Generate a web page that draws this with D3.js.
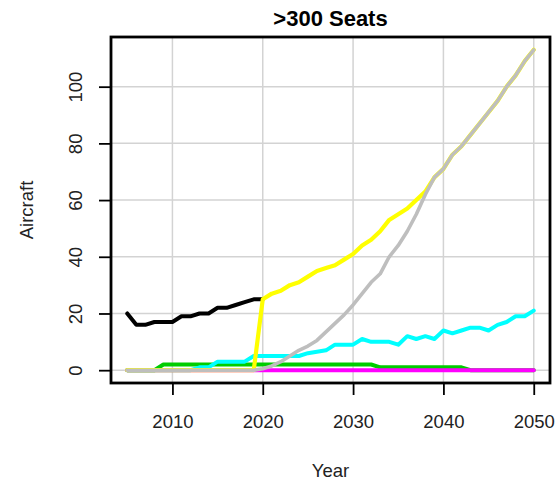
<!DOCTYPE html>
<html>
<head>
<meta charset="utf-8">
<script src="https://cdn.jsdelivr.net/npm/d3@7"></script>
<style>
  html, body { margin: 0; padding: 0; background: #ffffff; }
  svg { display: block; font-family: "Liberation Sans", Arial, Helvetica, sans-serif; }
</style>
</head>
<body>
<svg id="chart" width="557" height="481"></svg>
<script>
// Fleet size of >300-seat aircraft by year, one array per technology group.
const years = d3.range(2005, 2051);

// Existing fleet (ends in 2020)
const blackSeries = [20, 16, 16, 17, 17, 17, 19, 19, 20, 20, 22, 22, 23, 24, 25, 25,
  null, null, null, null, null, null, null, null, null, null, null, null, null, null,
  null, null, null, null, null, null, null, null, null, null, null, null, null, null, null, null];

const greenSeries = [0, 0, 0, 0, 2, 2, 2, 2, 2, 2, 2, 2, 2, 2, 2, 2, 2, 2, 2, 2,
  2, 2, 2, 2, 2, 2, 2, 2, 1, 1, 1, 1, 1, 1, 1, 1, 1, 1, 0, 0, 0, 0, 0, 0, 0, 0];

const cyanSeries = [0, 0, 0, 0, 0, 0, 0, 0, 1, 1, 3, 3, 3, 3, 5, 5, 5, 5, 5, 5,
  6, 6.5, 7, 9, 9, 9, 11, 10, 10, 10, 9, 12, 11, 12, 11, 14, 13, 14, 15, 15,
  14, 16, 17, 19, 19, 21];

const magentaSeries = [0, 0, 0, 0, 0, 0, 0, 0, 0, 0, 0, 0, 0, 0, 0, 0, 0, 0, 0, 0,
  0, 0, 0, 0, 0, 0, 0, 0, 0, 0, 0, 0, 0, 0, 0, 0, 0, 0, 0, 0, 0, 0, 0, 0, 0, 0];

const yellowSeries = [0, 0, 0, 0, 0, 0, 0, 0, 0, 0, 0, 0, 0, 0, 0, 25, 27, 28, 30, 31,
  33, 35, 36, 37, 39, 41, 44, 46, 49, 53, 55, 57, 60, 63, 68,
  71, 76, 79, 83, 87, 91, 95, 100, 104, 109, 113];

const graySeries = [0, 0, 0, 0, 0, 0, 0, 0, 0, 0, 0, 0, 0, 0, 0, 0.5, 1.5, 3, 5, 7,
  8.5, 10.5, 13.5, 16.5, 19.5, 23, 27, 31, 34, 40, 44, 49, 55, 62, 68,
  71, 76, 79, 83, 87, 91, 95, 100, 104, 109, 113];

const xTicks = [2010, 2020, 2030, 2040, 2050];
const yTicks = [0, 20, 40, 60, 80, 100];

const titleText = ">300 Seats";
const xLabel = "Year";
const yLabel = "Aircraft";

// Drawing order: later series sit on top.
const seriesList = [
  { values: blackSeries,   color: "#000000", width: 4 },
  { values: greenSeries,   color: "#00CD00", width: 4 },
  { values: cyanSeries,    color: "#00FFFF", width: 4 },
  { values: magentaSeries, color: "#FF00FF", width: 4 },
  { values: yellowSeries,  color: "#FFFF00", width: 4.2 },
  { values: graySeries,    color: "#BEBEBE", width: 3.6 }
];

const svg = d3.select("#chart");
svg.append("rect").attr("width", 557).attr("height", 481).attr("fill", "#ffffff");

// Plot region with 4% padding around the data range on each axis.
const xMin = 2005, xMax = 2050, yMin = 0, yMax = 113;
const xPad = (xMax - xMin) * 0.04, yPad = (yMax - yMin) * 0.04;
const x = d3.scaleLinear().domain([xMin - xPad, xMax + xPad]).range([111, 550]);
const y = d3.scaleLinear().domain([yMin - yPad, yMax + yPad]).range([383, 37]);

const [x0, x1] = x.range();
const [y0, y1] = y.range();

// Grid
const grid = svg.append("g").attr("stroke", "#D3D3D3").attr("stroke-width", 1.5);
grid.selectAll("line.v").data(xTicks).join("line")
  .attr("class", "v")
  .attr("x1", d => x(d)).attr("x2", d => x(d))
  .attr("y1", y1).attr("y2", y0);
grid.selectAll("line.h").data(yTicks).join("line")
  .attr("class", "h")
  .attr("x1", x0).attr("x2", x1)
  .attr("y1", d => y(d)).attr("y2", d => y(d));

// Series
const line = d3.line()
  .defined(d => d.v !== null)
  .x(d => x(d.year))
  .y(d => y(d.v));

const plot = svg.append("g");
seriesList.forEach(s => {
  const pts = years.map((yr, i) => ({ year: yr, v: s.values[i] }));
  plot.append("path")
    .datum(pts)
    .attr("fill", "none")
    .attr("stroke", s.color)
    .attr("stroke-width", s.width)
    .attr("stroke-linejoin", "round")
    .attr("stroke-linecap", "round")
    .attr("d", line);
});

// Frame
svg.append("rect")
  .attr("x", x0).attr("y", y1)
  .attr("width", x1 - x0).attr("height", y0 - y1)
  .attr("fill", "none").attr("stroke", "#000").attr("stroke-width", 2.8);

// Axes
const fontSize = 18.5;
const xAxis = svg.append("g")
  .attr("transform", `translate(0,${y0})`)
  .call(d3.axisBottom(x).tickValues(xTicks).tickSize(12).tickFormat(d3.format("d")));
xAxis.select(".domain").remove();
xAxis.selectAll(".tick line").attr("stroke", "#000").attr("stroke-width", 1.8);
xAxis.selectAll(".tick text")
  .attr("y", 45).attr("dy", 0)
  .attr("fill", "#222")
  .style("font-size", fontSize + "px")
  .style("font-family", "'Liberation Sans', Arial, sans-serif");

const yAxis = svg.append("g")
  .attr("transform", `translate(${x0},0)`)
  .call(d3.axisLeft(y).tickValues(yTicks).tickSize(12));
yAxis.select(".domain").remove();
yAxis.selectAll(".tick line").attr("stroke", "#000").attr("stroke-width", 1.8);
yAxis.selectAll(".tick text")
  .attr("x", 0).attr("y", 0).attr("dy", 0)
  .attr("text-anchor", "middle")
  .attr("transform", "translate(-29,0) rotate(-90)")
  .attr("fill", "#222")
  .style("font-size", fontSize + "px")
  .style("font-family", "'Liberation Sans', Arial, sans-serif");

// Titles
svg.append("text")
  .attr("x", (x0 + x1) / 2).attr("y", 26)
  .attr("text-anchor", "middle")
  .style("font-size", "22px").style("font-weight", "bold")
  .attr("fill", "#000")
  .text(titleText);

svg.append("text")
  .attr("x", (x0 + x1) / 2).attr("y", 477)
  .attr("text-anchor", "middle")
  .style("font-size", fontSize + "px")
  .attr("fill", "#222")
  .text(xLabel);

svg.append("text")
  .attr("transform", `translate(33,${(y0 + y1) / 2}) rotate(-90)`)
  .attr("text-anchor", "middle")
  .style("font-size", fontSize + "px")
  .attr("fill", "#222")
  .text(yLabel);
</script>
</body>
</html>
